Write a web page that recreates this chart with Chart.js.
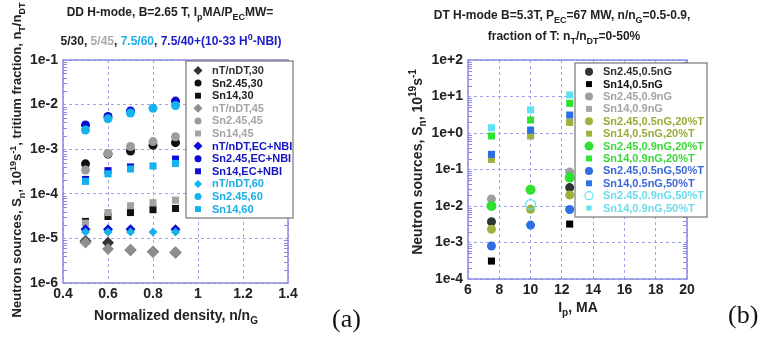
<!DOCTYPE html>
<html>
<head>
<meta charset="utf-8">
<script src="https://cdn.jsdelivr.net/npm/chart.js@4.4.1/dist/chart.umd.min.js"></script>
<style>
    body { margin: 0; background: #fff; width: 765px; height: 338px; overflow: hidden; position: relative; }
    canvas { position: absolute; top: 0; }
    #chartA { left: 0; }
    #chartB { left: 380px; }
</style>
</head>
<body>
<canvas id="chartA" width="380" height="338"></canvas>
<canvas id="chartB" width="385" height="338"></canvas>
<script>
// ---- Panel (a): DD H-mode, values vs normalized density ----
const densA = [0.5, 0.6, 0.7, 0.8, 0.9];
const nT30 = [8.7e-6, 8.0e-6, 5.5e-6, 5.0e-6, 4.8e-6];
const sn245_30 = [4.7e-4, 7.8e-4, 9.1e-4, 1.23e-3, 1.4e-3];
const sn14_30 = [2.4e-5, 3.1e-5, 3.8e-5, 4.4e-5, 4.7e-5];
const nT45 = [8.1e-6, 5.8e-6, 5.5e-6, 5.0e-6, 4.8e-6];
const sn245_45 = [3.4e-4, 8.0e-4, 1.15e-3, 1.48e-3, 1.9e-3];
const sn14_45 = [2.2e-5, 3.8e-5, 5.4e-5, 6.3e-5, 7.2e-5];
const nTnbi = [1.6e-5, 1.6e-5, 1.6e-5, null, 1.6e-5];
const sn245_nbi = [3.5e-3, 5.4e-3, 7.2e-3, null, 1.2e-2];
const sn14_nbi = [2.1e-4, 3.3e-4, 4.0e-4, null, 6.0e-4];
const nT60 = [1.4e-5, 1.4e-5, 1.4e-5, 1.4e-5, 1.4e-5];
const sn245_60 = [2.7e-3, 4.8e-3, 6.5e-3, 8.3e-3, 9.5e-3];
const sn14_60 = [1.9e-4, 2.8e-4, 3.6e-4, 4.2e-4, 4.8e-4];
const xTicksA = [0.4, 0.6, 0.8, 1, 1.2, 1.4];
const yTickValsA = [1e-6, 1e-5, 1e-4, 1e-3, 1e-2, 1e-1];
const yTickLabelsA = ['1e-6', '1e-5', '1e-4', '1e-3', '1e-2', '1e-1'];

// ---- Panel (b): DT H-mode, values vs plasma current ----
const ipB = [7.5, 10, 12.5];
const sn245_05 = [3.7e-3, null, 3.2e-2];
const sn14_05 = [3.1e-4, null, 3.2e-3];
const sn245_09 = [1.55e-2, null, 8.5e-2];
const sn14_09 = [null, null, null];
const sn245_05_20 = [2.3e-3, 8.1e-3, 2.0e-2];
const sn14_05_20 = [0.19, 0.83, 1.95];
const sn245_09_20 = [1.0e-2, 2.8e-2, 6.0e-2];
const sn14_09_20 = [0.83, 2.27, 6.5];
const sn245_05_50 = [8.0e-4, 3.0e-3, 8.0e-3];
const sn14_05_50 = [0.26, 1.2, 3.1];
const sn245_09_50 = [null, 1.1e-2, null];
const sn14_09_50 = [1.4, 4.3, 11];
const xTicksB = [6, 8, 10, 12, 14, 16, 18, 20];
const yTickValsB = [1e-4, 1e-3, 1e-2, 1e-1, 1, 10, 100];
const yTickLabelsB = ['1e-4', '1e-3', '1e-2', '1e-1', '1e+0', '1e+1', '1e+2'];

const FONT = '"Liberation Sans", Arial, sans-serif';
const FRAME = '#8a8ae2';
const GRID = '#a2a2ee';
const TXT = '#222';

function pts(xs, ys) {
    return xs.map((x, i) => ({ x: x, y: ys[i] })).filter(p => p.y !== null);
}

// draws bold text made of pieces, some of them sub/superscript
function drawRich(ctx, segs, x, y, size, align) {
    const parts = segs.map(([t, color, mode]) => {
        const s = mode ? Math.round(size * 0.72) : size;
        ctx.font = 'bold ' + s + 'px ' + FONT;
        return {
            t: t, s: s, color: color || TXT,
            dy: mode === 'sub' ? size * 0.32 : (mode === 'sup' ? -size * 0.42 : 0),
            w: ctx.measureText(t).width
        };
    });
    const total = parts.reduce((a, p) => a + p.w, 0);
    let cx = align === 'center' ? x - total / 2 : x;
    ctx.textAlign = 'left';
    ctx.textBaseline = 'alphabetic';
    parts.forEach(p => {
        ctx.font = 'bold ' + p.s + 'px ' + FONT;
        ctx.fillStyle = p.color;
        ctx.fillText(p.t, cx, y + p.dy);
        cx += p.w;
    });
}

function marker(ctx, ds, r, x, y) {
    ctx.fillStyle = ds.backgroundColor;
    ctx.strokeStyle = ds.borderColor;
    ctx.lineWidth = ds.borderWidth;
    Chart.helpers.drawPoint(ctx, { pointStyle: ds.pointStyle, radius: r, rotation: 0, borderWidth: ds.borderWidth }, x, y);
}

// frame, minor log ticks, legend box, titles
const decorPlugin = {
    id: 'decor',
    afterDatasetsDraw(chart, args, opts) {
        const ctx = chart.ctx;
        const a = chart.chartArea;
        const ys = chart.scales.y;
        ctx.save();
        ctx.strokeStyle = FRAME;
        ctx.lineWidth = 1;
        ys.ticks.forEach(t => {
            for (let k = 2; k <= 9; k++) {
                const v = t.value * k;
                if (v >= ys.max) continue;
                const py = Math.round(ys.getPixelForValue(v)) + 0.5;
                ctx.beginPath();
                ctx.moveTo(a.left, py); ctx.lineTo(a.left + 4, py);
                ctx.moveTo(a.right, py); ctx.lineTo(a.right - 4, py);
                ctx.stroke();
            }
        });
        ctx.lineWidth = 1.5;
        ctx.strokeRect(a.left, a.top, a.right - a.left, a.bottom - a.top);

        // legend
        const L = opts.legend;
        ctx.fillStyle = '#fff';
        ctx.fillRect(L.x, L.y, L.w, L.h);
        ctx.strokeStyle = '#777';
        ctx.lineWidth = 1.2;
        ctx.strokeRect(L.x, L.y, L.w, L.h);
        ctx.beginPath();
        ctx.rect(L.x, L.y, L.w - 1, L.h);
        ctx.clip();
        chart.data.datasets.forEach((ds, i) => {
            const yy = L.firstY + i * L.rowH;
            marker(ctx, ds, ds.legendRadius, L.markerX, yy);
            ctx.font = 'bold 11px ' + FONT;
            ctx.fillStyle = ds.textColor;
            ctx.textAlign = 'left';
            ctx.textBaseline = 'middle';
            ctx.fillText(ds.label, L.textX, yy + 0.5);
        });
        ctx.restore();
    },
    afterDraw(chart, args, opts) {
        const ctx = chart.ctx;
        ctx.save();
        opts.texts.forEach(t => {
            if (t.rotate) {
                ctx.save();
                ctx.translate(t.x, t.y);
                ctx.rotate(-Math.PI / 2);
                drawRich(ctx, t.segs, 0, 0, t.size, 'center');
                ctx.restore();
            } else {
                drawRich(ctx, t.segs, t.x, t.y, t.size, 'center');
            }
        });
        ctx.font = '26px "Liberation Serif", "Times New Roman", serif';
        ctx.fillStyle = '#111';
        ctx.textAlign = 'left';
        ctx.textBaseline = 'alphabetic';
        ctx.fillText(opts.tag.text, opts.tag.x, opts.tag.y);
        ctx.restore();
    }
};

function ds(label, xs, ys, style, color, textColor, r, lr, open) {
    return {
        label: label,
        data: pts(xs, ys),
        pointStyle: style,
        backgroundColor: open ? 'rgba(0,0,0,0)' : color,
        borderColor: color,
        borderWidth: open ? 1.2 : 0,
        pointRadius: r,
        pointHoverRadius: r,
        showLine: false,
        textColor: textColor,
        legendRadius: lr
    };
}

function scales(xMin, xMax, xTicks, yMin, yMax, yVals, yLabels, yWidth) {
    return {
        x: {
            type: 'linear', min: xMin, max: xMax,
            afterBuildTicks: s => { s.ticks = xTicks.map(v => ({ value: v })); },
            ticks: { autoSkip: false, maxRotation: 0, padding: 3, color: TXT, font: { family: FONT, size: 14, weight: 'bold' },
                callback: v => String(v) },
            grid: { color: GRID, lineWidth: 1, drawTicks: false },
            border: { display: false, dash: [3, 3] },
            afterFit: s => { s.height = 20; }
        },
        y: {
            type: 'logarithmic', min: yMin, max: yMax,
            afterBuildTicks: s => { s.ticks = yVals.map(v => ({ value: v })); },
            ticks: { autoSkip: false, padding: 5, color: TXT, font: { family: FONT, size: 14, weight: 'bold' },
                callback: (v) => yLabels[yVals.findIndex(t => Math.abs(Math.log10(t) - Math.log10(v)) < 1e-6)] },
            grid: { color: GRID, lineWidth: 1, drawTicks: false },
            border: { display: false, dash: [3, 3] },
            afterFit: s => { s.width = yWidth; }
        }
    };
}

const BLK = '#111', GRY = '#9c9c9c', BLU = '#0b0bd6', CYA = '#14b2ee';
const datasetsA = [
    ds('nT/nDT,30', densA, nT30, 'rectRot', '#333', '#333', 6, 4.5),
    ds('Sn2.45,30', densA, sn245_30, 'circle', BLK, '#222', 4.5, 3.5),
    ds('Sn14,30', densA, sn14_30, 'rect', BLK, '#222', 5, 4.2),
    ds('nT/nDT,45', densA, nT45, 'rectRot', '#8e8e8e', '#a6a6a6', 6, 4.5),
    ds('Sn2.45,45', densA, sn245_45, 'circle', GRY, '#a6a6a6', 4.5, 3.5),
    ds('Sn14,45', densA, sn14_45, 'rect', '#a2a2a2', '#a6a6a6', 5, 4.2),
    ds('nT/nDT,EC+NBI', densA, nTnbi, 'rectRot', BLU, '#1414c4', 5, 4.5),
    ds('Sn2.45,EC+NBI', densA, sn245_nbi, 'circle', BLU, '#1414c4', 4.5, 3.5),
    ds('Sn14,EC+NBI', densA, sn14_nbi, 'rect', BLU, '#1414c4', 5, 4.2),
    ds('nT/nDT,60', densA, nT60, 'rectRot', CYA, '#1aaee6', 4.5, 4),
    ds('Sn2.45,60', densA, sn245_60, 'circle', CYA, '#1aaee6', 4.5, 3.5),
    ds('Sn14,60', densA, sn14_60, 'rect', CYA, '#1aaee6', 5, 4.2)
];
// later series are painted over earlier ones
datasetsA.forEach((d, i) => { d.order = -i; });

const OLV = '#9db23c', GRN = '#2fe22f', BL2 = '#2f6ee4', CY2 = '#5ee2f2';
const datasetsB = [
    ds('Sn2.45,0.5nG', ipB, sn245_05, 'circle', '#2c3434', '#333', 4.5, 4),
    ds('Sn14,0.5nG', ipB, sn14_05, 'rect', '#000', '#111', 5, 4.2),
    ds('Sn2.45,0.9nG', ipB, sn245_09, 'circle', '#9e9e9e', '#a4a4a4', 4.5, 4),
    ds('Sn14,0.9nG', ipB, sn14_09, 'rect', '#a8a8a8', '#a4a4a4', 5, 4.2),
    ds('Sn2.45,0.5nG,20%T', ipB, sn245_05_20, 'circle', OLV, '#9aab3a', 4.5, 4),
    ds('Sn14,0.5nG,20%T', ipB, sn14_05_20, 'rect', OLV, '#9aab3a', 5, 4.2),
    ds('Sn2.45,0.9nG,20%T', ipB, sn245_09_20, 'circle', GRN, '#3ad83a', 5, 4.5),
    ds('Sn14,0.9nG,20%T', ipB, sn14_09_20, 'rect', GRN, '#3ad83a', 5, 4.2),
    ds('Sn2.45,0.5nG,50%T', ipB, sn245_05_50, 'circle', BL2, '#3a68d8', 4.5, 4),
    ds('Sn14,0.5nG,50%T', ipB, sn14_05_50, 'rect', BL2, '#3a68d8', 5, 4.2),
    ds('Sn2.45,0.9nG,50%T', ipB, sn245_09_50, 'circle', CY2, '#6cdcec', 5, 4, true),
    ds('Sn14,0.9nG,50%T', ipB, sn14_09_50, 'rect', CY2, '#6cdcec', 5, 3.6)
];
datasetsB.forEach((d, i) => { d.order = -i; });

new Chart(document.getElementById('chartA'), {
    type: 'scatter',
    data: { datasets: datasetsA },
    plugins: [decorPlugin],
    options: {
        responsive: false,
        animation: false,
        devicePixelRatio: 1,
        layout: { padding: { left: 0, top: 60, right: 92, bottom: 35 } },
        scales: scales(0.4, 1.4, xTicksA, 1e-6, 1e-1, yTickValsA, yTickLabelsA, 63),
        plugins: {
            legend: { display: false },
            tooltip: { enabled: false },
            decor: {
                legend: { x: 186, y: 61, w: 107, h: 157, firstY: 70.5, rowH: 12.6, markerX: 198, textX: 212 },
                texts: [
                    { x: 170, y: 16, size: 12, segs: [['DD H-mode, B=2.65 T, I'], ['p', null, 'sub'], ['MA/P'], ['EC', null, 'sub'], ['MW=']] },
                    { x: 171, y: 45, size: 12, segs: [['5/30, '], ['5/45', '#aaaaaa'], [', '], ['7.5/60', '#1ab0ea'], [', '],
                        ['7.5/40+(10-33 H', '#1c1cc8'], ['0', '#1c1cc8', 'sup'], ['-NBI)', '#1c1cc8']] },
                    { x: 176, y: 320, size: 14, segs: [['Normalized density, n/n'], ['G', null, 'sub']] },
                    { x: 21, y: 160, size: 13, rotate: true, segs: [['Neutron sources, S'], ['n', null, 'sub'], [', 10'], ['19', null, 'sup'],
                        ['s'], ['-1', null, 'sup'], [', tritium fraction, n'], ['T', null, 'sub'], ['/n'], ['DT', null, 'sub']] }
                ],
                tag: { text: '(a)', x: 332, y: 327 }
            }
        }
    }
});

new Chart(document.getElementById('chartB'), {
    type: 'scatter',
    data: { datasets: datasetsB },
    plugins: [decorPlugin],
    options: {
        responsive: false,
        animation: false,
        devicePixelRatio: 1,
        layout: { padding: { left: 0, top: 60, right: 78, bottom: 39 } },
        scales: scales(6, 20, xTicksB, 1e-4, 100, yTickValsB, yTickLabelsB, 88),
        plugins: {
            legend: { display: false },
            tooltip: { enabled: false },
            decor: {
                legend: { x: 195, y: 63, w: 132, h: 154, firstY: 71.7, rowH: 12.4, markerX: 209, textX: 223 },
                texts: [
                    { x: 182, y: 19, size: 12, segs: [['DT H-mode B=5.3T, P'], ['EC', null, 'sub'], ['=67 MW, n/n'], ['G', null, 'sub'], ['=0.5-0.9,']] },
                    { x: 184, y: 40, size: 12, segs: [['fraction of T: n'], ['T', null, 'sub'], ['/n'], ['DT', null, 'sub'], ['=0-50%']] },
                    { x: 198, y: 312, size: 14, segs: [['I'], ['p', null, 'sub'], [', MA']] },
                    { x: 42, y: 162, size: 14, rotate: true, segs: [['Neutron sources, S'], ['n', null, 'sub'], [', 10'], ['19', null, 'sup'],
                        ['s'], ['-1', null, 'sup']] }
                ],
                tag: { text: '(b)', x: 348, y: 323 }
            }
        }
    }
});
</script>
</body>
</html>
